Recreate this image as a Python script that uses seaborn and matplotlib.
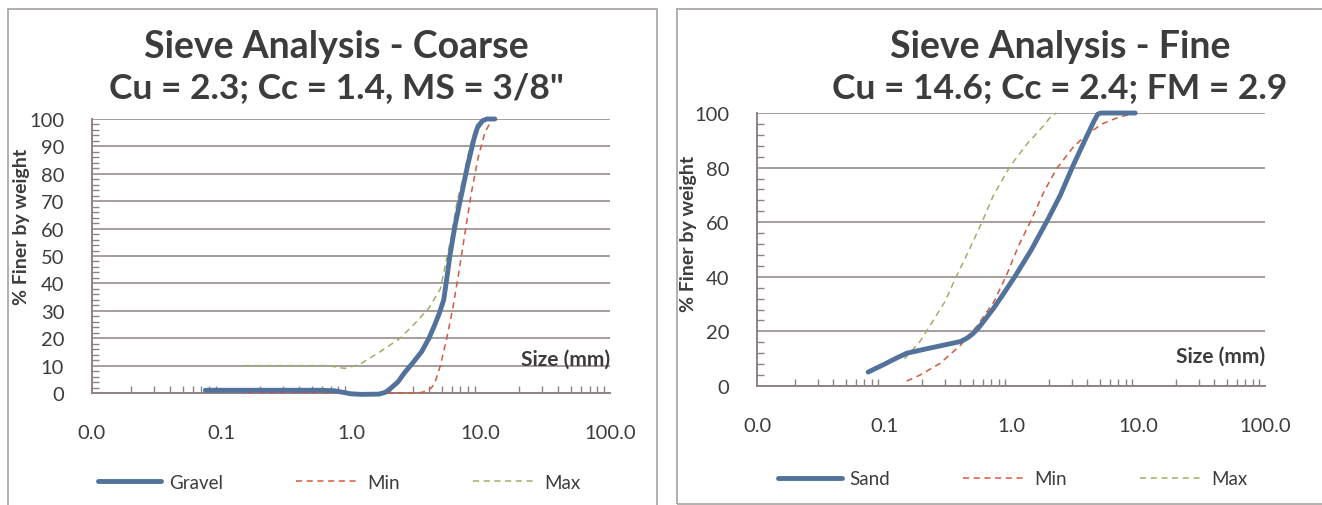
import matplotlib
matplotlib.use("Agg")
import matplotlib.pyplot as plt
import matplotlib.ticker as mticker
from matplotlib.patches import Rectangle
import seaborn as sns

# coarse aggregate
gravel_size = [0.075, 0.15, 0.3, 0.6, 0.75, 1.0, 1.2, 1.65, 1.85, 2.0, 2.3, 2.6, 3.0, 3.5, 4.0, 4.4, 4.8, 5.2,
               5.5, 5.8, 6.35, 7.1, 7.95, 8.9, 9.5, 10.4, 11.2, 12.9]
gravel_pct = [1, 1, 1, 1, 0.8, -0.3, -0.5, -0.4, 0.3, 1.5, 4, 7.5, 11, 15, 20, 24.5, 29, 34,
              42, 50, 61, 72, 83, 92.7, 97, 99.4, 100, 100]
cmin_size = [0.16, 0.5, 1.0, 2.0, 3.0, 3.5, 3.9, 4.2, 4.5, 4.9, 5.47, 6.1, 6.8, 7.6, 8.5, 9.6, 10.8, 12.1, 13.5]
cmin_pct = [0, 0, 0, 0, 0, 0.2, 0.8, 2, 4.5, 10, 19.7, 30.7, 44, 58.6, 73, 86, 95, 99.4, 100]
cmax_size = [0.15, 0.3, 0.67, 0.8, 0.9, 1.05, 1.22, 1.67, 2.4, 3.2, 4.0, 4.9, 5.47, 5.9, 6.6, 7.4, 8.2, 9.2, 10.4]
cmax_pct = [10, 10, 10, 9.3, 9, 9.8, 11, 15, 20, 26, 31, 38, 49, 56, 70, 79, 89, 97.6, 100]

# fine aggregate
sand_size = [0.075, 0.103, 0.125, 0.151, 0.18, 0.22, 0.297, 0.40, 0.45, 0.50, 0.56, 0.63, 0.73, 0.85, 1.07,
             1.45, 1.95, 2.45, 3.08, 3.86, 4.5, 4.83, 5.1, 9.5]
sand_pct = [5.1, 8.2, 10.2, 12, 12.8, 13.7, 15, 16.3, 17.5, 19.1, 21.5, 24.6, 28.5, 33, 40,
            50, 61, 70, 80.7, 90.5, 97, 99.6, 100, 100]
fmin_size = [0.151, 0.19, 0.275, 0.40, 0.54, 0.73, 0.92, 1.15, 1.45, 1.81, 2.28, 3.08, 3.86, 5.2, 7.0, 9.5]
fmin_pct = [1.8, 3.9, 8.2, 14.9, 22, 30.7, 40.5, 51.5, 61, 71, 79.5, 87.4, 91.7, 96, 98.4, 100]
fmax_size = [0.145, 0.19, 0.24, 0.30, 0.37, 0.47, 0.59, 0.73, 0.99, 1.34, 1.81, 2.0, 2.28]
fmax_pct = [10, 16, 23.4, 30.7, 40, 50, 60, 70, 80.7, 88.7, 95.4, 98, 100]

titles = ["Sieve Analysis - Coarse\nCu = 2.3; Cc = 1.4, MS = 3/8\"",
          "Sieve Analysis - Fine\nCu = 14.6; Cc = 2.4; FM = 2.9"]

sns.set_style("white")
plt.rcParams['font.family'] = ['Lato', 'DejaVu Sans']

BLUE = "#52729b"
RED = "#d4593f"
GREEN = "#9fae68"
GRID = "#8e8282"
TXT = "#3c3c3c"

W, H = 1322, 506
fig = plt.figure(figsize=(W / 100, H / 100), dpi=100)

# panel borders (pixel boxes)
for x0, y0, x1, y1 in [(8, 10, 657, 520), (677, 10, 1335, 505)]:
    fig.patches.append(Rectangle((x0 / W, 1 - y1 / H), (x1 - x0) / W, (y1 - y0) / H,
                                 transform=fig.transFigure, fill=False,
                                 edgecolor="#b0a8a8", lw=1.3))


def px_axes(l, t, r, b):
    return fig.add_axes([l / W, 1 - b / H, (r - l) / W, (b - t) / H])


ax1 = px_axes(92, 120, 610, 394)
ax2 = px_axes(757, 114, 1265, 387)

panels = [
    (ax1, [(gravel_size, gravel_pct, "Gravel"), (cmin_size, cmin_pct, "Min"), (cmax_size, cmax_pct, "Max")], 10, 2),
    (ax2, [(sand_size, sand_pct, "Sand"), (fmin_size, fmin_pct, "Min"), (fmax_size, fmax_pct, "Max")], 20, 4),
]

for ax, series, ystep, yminor in panels:
    main, lo, hi = series
    sns.lineplot(x=main[0], y=main[1], ax=ax, color=BLUE, lw=3.5, label=main[2],
                 estimator=None, sort=False, clip_on=False, zorder=5,
                 solid_capstyle="round", solid_joinstyle="round")
    sns.lineplot(x=lo[0], y=lo[1], ax=ax, color=RED, lw=1.1, label=lo[2],
                 estimator=None, sort=False, clip_on=False, zorder=4)
    sns.lineplot(x=hi[0], y=hi[1], ax=ax, color=GREEN, lw=1.1, label=hi[2],
                 estimator=None, sort=False, clip_on=False, zorder=4)
    ax.lines[1].set_linestyle((0, (4, 3)))
    ax.lines[2].set_linestyle((0, (4, 3)))

    ax.set_xscale("log")
    ax.set_xlim(0.01, 100)
    ax.set_ylim(0, 100)
    ax.xaxis.set_major_locator(mticker.LogLocator(base=10))
    ax.xaxis.set_major_formatter(mticker.FormatStrFormatter("%.1f"))
    ax.xaxis.set_minor_locator(mticker.LogLocator(base=10, subs=range(2, 10)))
    ax.xaxis.set_minor_formatter(mticker.NullFormatter())
    ax.yaxis.set_major_locator(mticker.MultipleLocator(ystep))
    ax.yaxis.set_minor_locator(mticker.MultipleLocator(yminor))

    ax.grid(axis="y", which="major", color=GRID, lw=1.1)
    ax.grid(axis="x", visible=False)
    for s in ["top", "right"]:
        ax.spines[s].set_visible(False)
    for s in ["left", "bottom"]:
        ax.spines[s].set_color(GRID)
        ax.spines[s].set_linewidth(1.4)
    ax.tick_params(which="both", left=True, bottom=True)
    ax.tick_params(axis="x", which="major", direction="in", length=0, pad=22,
                   labelsize=14.5, labelcolor=TXT)
    ax.tick_params(axis="x", which="minor", direction="in", length=5, color=GRID, width=1)
    ax.tick_params(axis="y", which="major", direction="in", length=0, pad=20,
                   labelsize=14.5, labelcolor=TXT)
    ax.tick_params(axis="y", which="minor", direction="in", length=5, color=GRID, width=1)

    ax.set_xlabel("")
    ax.set_ylabel("% Finer by weight", fontsize=14, fontweight="bold", color=TXT)
    ax.text(1.0, 0.125 if ax is ax1 else 0.11, "Size (mm)", transform=ax.transAxes,
            ha="right", va="center", fontsize=15, fontweight="bold", color=TXT)

ax1.yaxis.set_label_coords(-0.12, 0.61)
ax2.yaxis.set_label_coords(-0.118, 0.56)

ax1.legend(loc="center", bbox_to_anchor=(0.477, -0.325), ncol=3, frameon=False,
           fontsize=13.5, handlelength=3.4, columnspacing=3.9, handletextpad=0.4,
           labelcolor=TXT)
ax2.legend(loc="center", bbox_to_anchor=(0.504, -0.34), ncol=3, frameon=False,
           fontsize=13.5, handlelength=3.4, columnspacing=3.9, handletextpad=0.4,
           labelcolor=TXT)

for xc, title in zip([336, 1060], titles):
    l1, l2 = title.split("\n")
    fig.text(xc / W, 1 - 47 / H, l1, ha="center", va="center", fontsize=27,
             fontweight="bold", color=TXT)
    fig.text(xc / W, 1 - 88 / H, l2, ha="center", va="center", fontsize=25.5,
             fontweight="bold", color=TXT)

fig.savefig("out.png", dpi=100)
